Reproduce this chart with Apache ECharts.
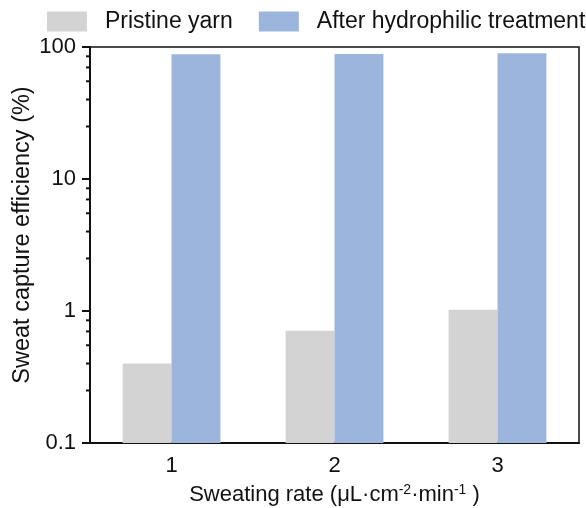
<!DOCTYPE html>
<html>
<head>
<meta charset="utf-8">
<script src="https://cdn.jsdelivr.net/npm/echarts@6/dist/echarts.min.js"></script>
<style>
  html, body { margin: 0; padding: 0; background: #fff; }
  #chart { width: 586px; height: 508px; }
</style>
</head>
<body>
<div id="chart"></div>
<script>
// data
var rates = ['1', '2', '3'];
var pristine = [0.4, 0.71, 1.02];
var treated = [88, 88.5, 89.5];
var seriesNames = ['Pristine yarn', 'After hydrophilic treatment'];
var colors = ['#d3d3d3', '#9bb5dd'];
// minor ticks on the log axis (linear steps inside each decade)
var minorTicks = [0.25, 0.4, 0.55, 0.7, 0.85, 2.5, 4, 5.5, 7, 8.5, 25, 40, 55, 70, 85];
var axisMin = 0.1;

var font = 'Liberation Sans, Arial, sans-serif';
var myChart = echarts.init(document.getElementById('chart'));

// bars on a log axis: ECharts starts bars at 1, so draw them from the axis min
function barRenderer(side) {
	return function (params, api) {
		var cat = api.value(0);
		var top = api.coord([cat, api.value(1)]);
		var base = api.coord([cat, axisMin]);
		var w = api.size([1, 0])[0] * 0.3;
		var x = side < 0 ? top[0] - w : top[0];
		return {
			type: 'rect',
			shape: { x: x, y: top[1], width: w, height: base[1] - top[1] },
			style: { fill: api.visual('color') }
		};
	};
}

var option = {
	backgroundColor: '#fff',
	animation: false,
	legend: {
		data: seriesNames,
		left: 47,
		top: 10,
		width: 539,
		padding: 0,
		itemWidth: 40,
		itemHeight: 20,
		itemGap: 26,
		icon: 'rect',
		textStyle: { fontFamily: font, fontSize: 23, color: '#111', padding: [0, 0, 0, 13] }
	},
	grid: {
		left: 90, right: 7, top: 47, bottom: 65,
		outerBoundsMode: 'none',
		show: true,
		borderColor: '#111',
		borderWidth: 1.5
	},
	xAxis: [{
		type: 'category',
		data: rates,
		name: 'Sweating rate (μL·cm{sup|-2}·min{sup|-1} )',
		nameLocation: 'middle',
		nameGap: 40,
		nameTextStyle: {
			fontFamily: font, fontSize: 22, color: '#111',
			rich: { sup: { fontFamily: font, fontSize: 14, color: '#111', verticalAlign: 'bottom', padding: [0, 0, 10, 0] } }
		},
		axisLine: { lineStyle: { color: '#111', width: 2 } },
		axisTick: { alignWithLabel: true, length: 7, lineStyle: { color: '#111', width: 2 } },
		axisLabel: { fontFamily: font, fontSize: 22, color: '#111', margin: 12 }
	}, {
		type: 'category',
		data: rates,
		position: 'bottom',
		axisLine: { show: false },
		axisTick: { length: 4, lineStyle: { color: '#111', width: 2 } },
		axisLabel: { show: false }
	}],
	yAxis: {
		type: 'log',
		logBase: 10,
		min: axisMin,
		max: 100,
		name: 'Sweat capture efficiency (%)',
		nameLocation: 'middle',
		nameGap: 55,
		nameMoveOverlap: false,
		nameTextStyle: { fontFamily: font, fontSize: 23.5, color: '#111', padding: [0, 0, 0, 20] },
		axisLine: { show: true, lineStyle: { color: '#111', width: 2 } },
		axisTick: { show: true, length: 8, lineStyle: { color: '#111', width: 2 } },
		axisLabel: { fontFamily: font, fontSize: 22, color: '#111', margin: 14 },
		splitLine: { show: false }
	},
	series: [{
		name: seriesNames[0],
		type: 'custom',
		clip: true,
		itemStyle: { color: colors[0] },
		data: pristine.map(function (v, i) { return [i, v]; }),
		renderItem: barRenderer(-1)
	}, {
		name: seriesNames[1],
		type: 'custom',
		clip: true,
		itemStyle: { color: colors[1] },
		data: treated.map(function (v, i) { return [i, v]; }),
		renderItem: barRenderer(1)
	}, {
		type: 'custom',
		silent: true,
		clip: false,
		z: 10,
		data: minorTicks.map(function (v) { return [0, v]; }),
		renderItem: function (params, api) {
			var y = api.coord([0, api.value(1)])[1];
			var x0 = params.coordSys.x;
			return {
				type: 'line',
				shape: { x1: x0 - 4, y1: y, x2: x0, y2: y },
				style: { stroke: '#111', lineWidth: 2 }
			};
		}
	}]
};

myChart.setOption(option);
</script>
</body>
</html>
